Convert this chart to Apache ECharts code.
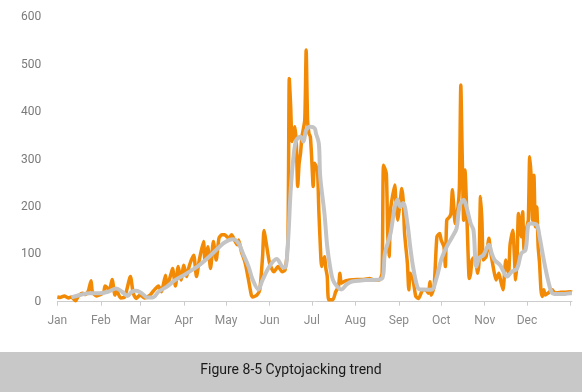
<!DOCTYPE html>
<html>
<head>
<meta charset="utf-8">
<style>
  html, body { margin: 0; padding: 0; background: #ffffff; }
  #chart { width: 582px; height: 392px; }
</style>
<script src="https://cdn.jsdelivr.net/npm/echarts@6/dist/echarts.min.js"></script>
</head>
<body>
<div id="chart"></div>
<script>
// ---- data ----
const monthLabels = ['Jan', 'Feb', 'Mar', 'Apr', 'May', 'Jun', 'Jul', 'Aug', 'Sep', 'Oct', 'Nov', 'Dec'];
const monthStartDays = [0, 31, 59, 90, 120, 151, 181, 212, 243, 273, 304, 334];
const yearEndDay = 365;
const yTicks = [0, 100, 200, 300, 400, 500, 600];

// daily detections (orange): day of year -> value
const dailyDays = [0, 2, 5, 8, 10, 13, 15, 18, 20, 22, 24, 25, 28, 30, 33, 34, 37, 39, 41, 42, 45, 48, 52, 54, 56, 59, 62, 66, 69, 72, 74, 77, 78, 81, 82, 84, 86, 88, 90, 92, 94, 97, 99, 101, 104, 105, 107, 109, 111, 113, 115, 117, 119, 122, 124, 126, 128, 129, 131, 133, 134, 136, 138, 139, 142, 144, 146, 147, 149, 151, 154, 157, 160, 162, 164, 165, 166, 167, 169, 170, 171, 172, 173, 174, 176, 177, 178, 179, 180, 181, 182, 183, 185, 186, 187, 188, 190, 191, 192, 193, 196, 198, 200, 201, 202, 205, 208, 213, 218, 222, 225, 229, 231, 232, 234, 235, 236, 237, 238, 240, 241, 242, 244, 245, 246, 247, 249, 250, 251, 253, 255, 257, 260, 262, 264, 265, 266, 268, 270, 272, 273, 275, 276, 277, 279, 280, 281, 282, 283, 285, 286, 287, 288, 289, 290, 291, 292, 293, 294, 295, 297, 299, 300, 301, 302, 303, 305, 307, 308, 310, 312, 314, 315, 317, 319, 321, 322, 324, 325, 326, 327, 328, 330, 331, 332, 333, 334, 335, 336, 337, 338, 339, 340, 341, 342, 343, 344, 345, 346, 347, 349, 352, 354, 358, 361, 365, 366];
const dailyValues = [10, 9, 12, 8, 10, 2, 12, 18, 15, 22, 44, 20, 12, 14, 20, 33, 25, 47, 14, 25, 8, 10, 53, 18, 7, 14, 8, 14, 25, 33, 21, 56, 32, 60, 70, 33, 74, 46, 77, 53, 77, 98, 53, 88, 127, 88, 116, 70, 127, 88, 134, 141, 141, 134, 141, 130, 120, 130, 105, 88, 77, 46, 14, 10, 14, 25, 95, 150, 116, 81, 63, 74, 63, 67, 124, 471, 411, 338, 369, 334, 243, 292, 313, 348, 383, 531, 383, 355, 348, 299, 243, 292, 278, 193, 123, 74, 95, 70, 53, 4, 4, 21, 32, 60, 39, 44, 46, 47, 47, 49, 46, 46, 60, 288, 271, 144, 95, 193, 215, 246, 200, 172, 215, 239, 215, 144, 81, 25, 60, 46, 11, 7, 25, 25, 18, 42, 14, 32, 137, 144, 130, 116, 74, 172, 179, 186, 236, 200, 165, 200, 243, 457, 306, 172, 278, 208, 116, 49, 60, 88, 95, 60, 88, 222, 172, 88, 95, 134, 109, 74, 46, 60, 49, 25, 88, 60, 120, 151, 102, 46, 88, 186, 137, 190, 109, 116, 158, 172, 306, 264, 172, 267, 158, 200, 116, 81, 25, 11, 25, 14, 18, 25, 18, 20, 20, 21, 20];

// trend (grey)
const trendDays = [10, 16, 23, 30, 36, 42, 46, 50, 53, 56, 60, 64, 68, 72, 78, 84, 90, 96, 101, 107, 113, 118, 122, 125, 129, 132, 136, 139, 143, 146, 151, 156, 160, 162, 164, 166, 168, 170, 173, 175, 177, 180, 183, 184, 186, 187, 190, 192, 194, 196, 199, 202, 206, 209, 214, 219, 225, 231, 233, 237, 240, 242, 244, 246, 249, 251, 253, 256, 258, 261, 266, 270, 273, 277, 281, 284, 286, 289, 291, 294, 296, 298, 300, 303, 307, 309, 311, 315, 320, 323, 327, 330, 333, 335, 337, 341, 343, 346, 349, 352, 355, 360, 365, 366];
const trendValues = [9, 14, 18, 18, 21, 28, 21, 12, 21, 23, 18, 9, 9, 21, 32, 46, 56, 67, 77, 92, 109, 123, 130, 132, 123, 102, 74, 46, 26, 46, 75, 90, 74, 72, 123, 236, 306, 341, 348, 338, 362, 369, 366, 355, 334, 264, 186, 116, 74, 46, 32, 26, 37, 42, 44, 46, 46, 49, 102, 144, 200, 215, 200, 208, 165, 116, 74, 32, 26, 26, 25, 53, 88, 116, 137, 155, 200, 215, 200, 165, 151, 74, 92, 98, 120, 102, 88, 77, 53, 63, 70, 102, 109, 162, 165, 162, 137, 88, 46, 18, 16, 16, 18, 18];

const titleText = 'Figure 8-5 Cyptojacking trend';

// ---- chart ----
const chart = echarts.init(document.getElementById('chart'), null, { renderer: 'canvas' });

const dailySeries = dailyDays.map((d, i) => [d, dailyValues[i]]);
const trendSeries = trendDays.map((d, i) => [d, trendValues[i]]);
const tickDays = monthStartDays.concat([yearEndDay]);

chart.setOption({
  animation: false,
  backgroundColor: '#ffffff',
  textStyle: { fontFamily: 'Roboto, sans-serif' },
  grid: { left: 57.3, right: 10.1, top: 17.3, bottom: 90.3, containLabel: false },
  xAxis: {
    type: 'value',
    min: 0,
    max: 366,
    axisLine: { show: true, lineStyle: { color: '#cccccc', width: 1 } },
    axisTick: { show: true, length: 4, lineStyle: { color: '#cccccc' }, customValues: tickDays },
    axisLabel: {
      customValues: monthStartDays,
      color: '#8a8a8a',
      fontSize: 12,
      fontFamily: 'Roboto, sans-serif',
      margin: 13,
      formatter: (v) => monthLabels[monthStartDays.indexOf(Math.round(v))] || ''
    },
    splitLine: { show: false }
  },
  yAxis: {
    type: 'value',
    min: yTicks[0],
    max: yTicks[yTicks.length - 1],
    interval: 100,
    axisLine: { show: false },
    axisTick: { show: false },
    splitLine: { show: false },
    axisLabel: { color: '#7a7a7a', fontSize: 12, fontFamily: 'Roboto, sans-serif', margin: 16 }
  },
  series: [
    {
      name: 'Daily',
      type: 'line',
      data: dailySeries,
      showSymbol: false,
      smooth: 0.2,
      lineStyle: { color: '#F28A05', width: 3.5 },
      z: 2
    },
    {
      name: 'Trend',
      type: 'line',
      data: trendSeries,
      showSymbol: false,
      smooth: 0.35,
      lineStyle: { color: '#C4C4C4', width: 4 },
      z: 3
    }
  ],
  graphic: [
    {
      type: 'rect',
      left: 0,
      top: 352,
      shape: { width: 582, height: 40 },
      style: { fill: '#C8C8C8' },
      silent: true
    },
    {
      type: 'text',
      left: 'center',
      top: 363,
      style: {
        text: titleText,
        fill: '#1a1a1a',
        font: '14px Roboto, sans-serif'
      },
      silent: true
    }
  ]
});
</script>
</body>
</html>
